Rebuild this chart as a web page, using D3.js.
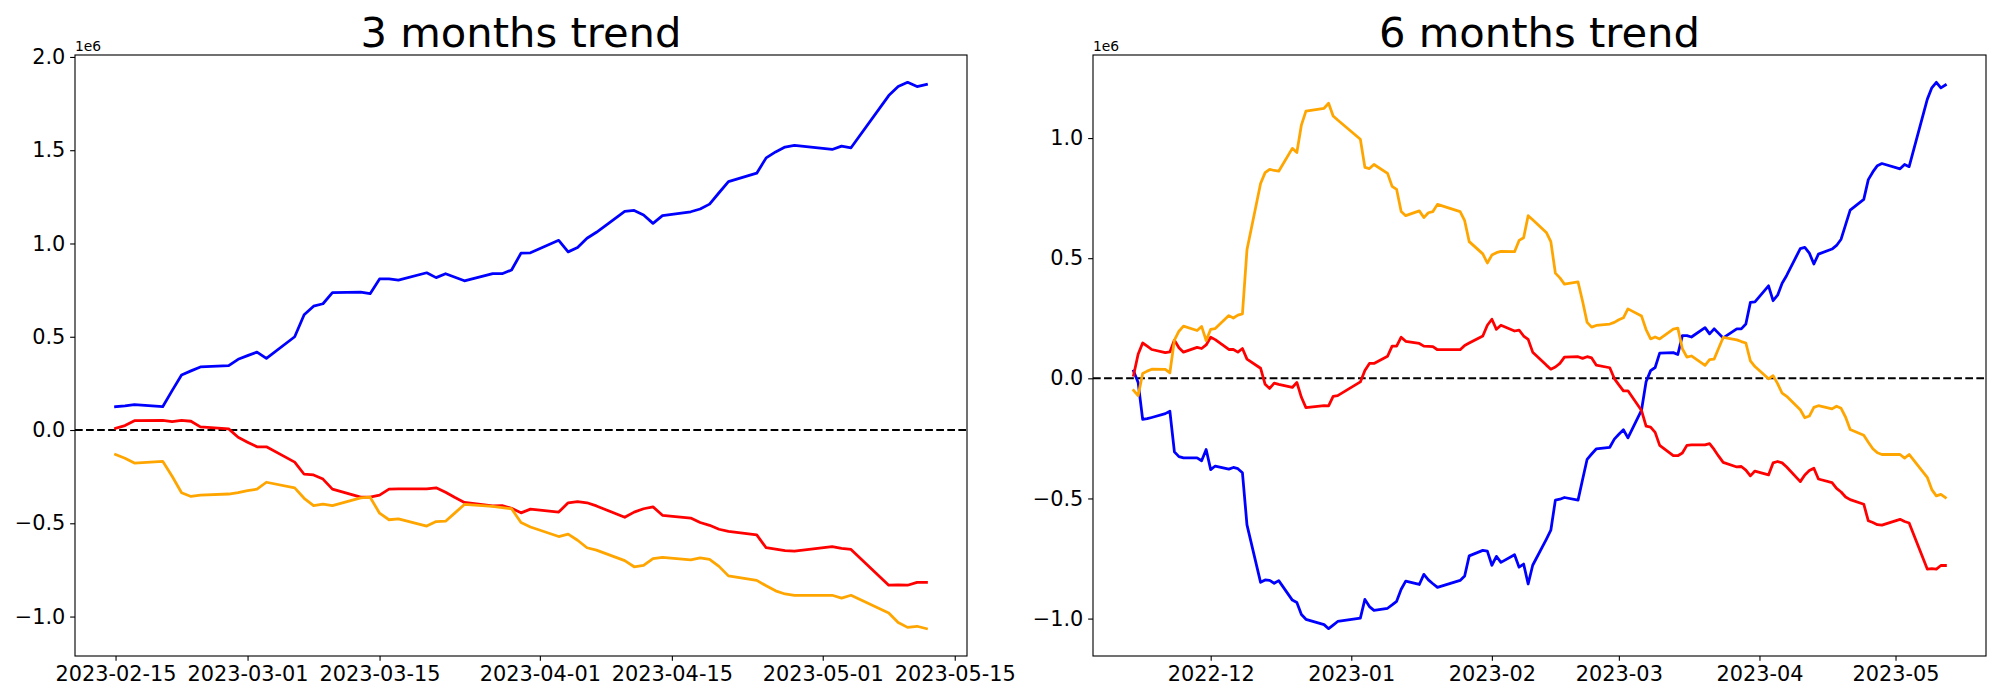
<!DOCTYPE html>
<html>
<head>
<meta charset="utf-8">
<script src="https://cdn.jsdelivr.net/npm/d3@7"></script>
<style>
	body { margin: 0; background: #ffffff; }
	text { font-family: "DejaVu Sans", sans-serif; fill: #000; }
</style>
</head>
<body>
<script>
//Values are in units of 1e6 (the axis offset text)

//3 months trend: trading dates
let dates3m = ["2023-02-15","2023-02-16","2023-02-17","2023-02-20","2023-02-21","2023-02-22","2023-02-23","2023-02-24","2023-02-27","2023-02-28",
	"2023-03-01","2023-03-02","2023-03-03","2023-03-06","2023-03-07","2023-03-08","2023-03-09","2023-03-10","2023-03-13","2023-03-14","2023-03-15","2023-03-16","2023-03-17","2023-03-20","2023-03-21","2023-03-22","2023-03-23","2023-03-24","2023-03-27","2023-03-28","2023-03-29","2023-03-30","2023-03-31",
	"2023-04-03","2023-04-04","2023-04-05","2023-04-06","2023-04-07","2023-04-10","2023-04-11","2023-04-12","2023-04-13","2023-04-14","2023-04-17","2023-04-18","2023-04-19","2023-04-20","2023-04-21","2023-04-24","2023-04-25","2023-04-26","2023-04-27","2023-04-28",
	"2023-05-02","2023-05-03","2023-05-04","2023-05-08","2023-05-09","2023-05-10","2023-05-11","2023-05-12"];

let blue3m = [0.125,0.129,0.136,0.125,0.211,0.295,0.317,0.338,0.345,0.379,
	0.399,0.418,0.384,0.500,0.618,0.664,0.677,0.737,0.739,0.731,0.810,0.810,0.804,0.843,0.817,0.838,0.819,0.800,0.838,0.838,0.858,0.948,0.950,
	1.017,0.955,0.978,1.028,1.060,1.172,1.177,1.153,1.108,1.149,1.170,1.185,1.211,1.272,1.332,1.377,1.459,1.491,1.517,1.526,
	1.504,1.522,1.513,1.793,1.841,1.864,1.841,1.853];

let red3m = [0.009,0.024,0.050,0.052,0.045,0.052,0.047,0.017,0.006,-0.039,
	-0.065,-0.090,-0.090,-0.172,-0.237,-0.241,-0.263,-0.317,-0.360,-0.360,-0.349,-0.317,-0.315,-0.315,-0.310,-0.334,-0.362,-0.388,-0.407,-0.405,-0.420,-0.444,-0.424,
	-0.440,-0.390,-0.384,-0.390,-0.407,-0.468,-0.440,-0.422,-0.412,-0.457,-0.472,-0.496,-0.511,-0.532,-0.543,-0.562,-0.631,-0.638,-0.647,-0.649,
	-0.625,-0.634,-0.640,-0.832,-0.830,-0.832,-0.817,-0.817];

let orange3m = [-0.131,-0.151,-0.177,-0.168,-0.248,-0.336,-0.356,-0.349,-0.343,-0.336,
	-0.325,-0.317,-0.280,-0.310,-0.366,-0.405,-0.397,-0.405,-0.364,-0.360,-0.446,-0.481,-0.476,-0.515,-0.491,-0.489,-0.444,-0.399,-0.409,-0.416,-0.422,-0.496,-0.520,
	-0.571,-0.558,-0.591,-0.631,-0.644,-0.700,-0.733,-0.726,-0.690,-0.683,-0.696,-0.685,-0.694,-0.731,-0.782,-0.806,-0.835,-0.862,-0.879,-0.886,
	-0.886,-0.901,-0.886,-0.981,-1.032,-1.058,-1.052,-1.065];

//6 months trend: trading dates before the 3 month window
let datesEarly6m = ["2022-11-14","2022-11-15","2022-11-16","2022-11-17","2022-11-18","2022-11-21","2022-11-22","2022-11-23","2022-11-24","2022-11-25","2022-11-28","2022-11-29","2022-11-30",
	"2022-12-01","2022-12-02","2022-12-05","2022-12-06","2022-12-07","2022-12-08","2022-12-09","2022-12-12","2022-12-13","2022-12-14","2022-12-15","2022-12-16","2022-12-19","2022-12-20","2022-12-21","2022-12-22","2022-12-26","2022-12-27","2022-12-28","2022-12-29",
	"2023-01-03","2023-01-04","2023-01-05","2023-01-06","2023-01-09","2023-01-10","2023-01-11","2023-01-12","2023-01-13","2023-01-16","2023-01-17","2023-01-18","2023-01-19","2023-01-20","2023-01-25","2023-01-26","2023-01-27","2023-01-30","2023-01-31",
	"2023-02-01","2023-02-02","2023-02-03","2023-02-06","2023-02-07","2023-02-08","2023-02-09","2023-02-10","2023-02-13","2023-02-14"];
let dates6m = datesEarly6m.concat(dates3m);

let blue6m = [0.030,-0.017,-0.171,-0.168,-0.163,-0.147,-0.137,-0.306,-0.326,-0.331,-0.331,-0.343,-0.296,
	-0.380,-0.365,-0.378,-0.371,-0.376,-0.393,-0.610,-0.849,-0.839,-0.841,-0.853,-0.842,-0.923,-0.933,-0.983,-1.003,-1.025,-1.042,-1.027,-1.012,
	-0.998,-0.920,-0.950,-0.966,-0.957,-0.943,-0.928,-0.878,-0.844,-0.858,-0.816,-0.839,-0.855,-0.870,-0.841,-0.823,-0.739,-0.716,-0.719,
	-0.778,-0.741,-0.766,-0.734,-0.786,-0.773,-0.856,-0.778,-0.670,-0.632,
	-0.507,-0.503,-0.496,-0.507,-0.421,-0.337,-0.315,-0.294,-0.287,-0.253,
	-0.233,-0.214,-0.248,-0.132,-0.014,0.032,0.045,0.105,0.107,0.099,0.178,0.178,0.172,0.211,0.185,0.206,0.187,0.168,0.206,0.206,0.226,0.316,0.318,
	0.385,0.323,0.346,0.396,0.428,0.540,0.545,0.521,0.476,0.517,0.538,0.553,0.579,0.640,0.700,0.745,0.827,0.859,0.885,0.894,
	0.872,0.890,0.881,1.161,1.209,1.232,1.209,1.221];

let red6m = [0.013,0.100,0.147,0.134,0.120,0.107,0.110,0.159,0.127,0.109,0.129,0.124,0.139,
	0.171,0.161,0.120,0.120,0.109,0.124,0.080,0.042,-0.025,-0.042,-0.020,-0.025,-0.038,-0.017,-0.079,-0.122,-0.114,-0.115,-0.075,-0.072,
	-0.015,0.033,0.062,0.062,0.092,0.134,0.134,0.171,0.154,0.145,0.134,0.133,0.132,0.119,0.119,0.137,0.147,0.176,0.221,
	0.246,0.204,0.221,0.197,0.201,0.176,0.162,0.109,0.055,0.038,
	0.047,0.062,0.088,0.090,0.083,0.090,0.085,0.055,0.044,-0.001,
	-0.027,-0.052,-0.052,-0.134,-0.199,-0.203,-0.225,-0.279,-0.322,-0.322,-0.311,-0.279,-0.277,-0.277,-0.272,-0.296,-0.324,-0.350,-0.369,-0.367,-0.382,-0.406,-0.386,
	-0.402,-0.352,-0.346,-0.352,-0.369,-0.430,-0.402,-0.384,-0.374,-0.419,-0.434,-0.458,-0.473,-0.494,-0.505,-0.524,-0.593,-0.600,-0.609,-0.611,
	-0.587,-0.596,-0.602,-0.794,-0.792,-0.794,-0.779,-0.779];

let orange6m = [-0.050,-0.072,0.020,0.030,0.038,0.037,0.023,0.159,0.196,0.217,0.199,0.216,0.157,
	0.204,0.207,0.261,0.251,0.263,0.268,0.535,0.811,0.856,0.870,0.865,0.862,0.957,0.940,1.054,1.112,1.124,1.145,1.092,1.075,
	0.995,0.878,0.873,0.890,0.853,0.799,0.786,0.694,0.677,0.697,0.669,0.689,0.694,0.724,0.694,0.656,0.569,0.518,0.480,
	0.513,0.523,0.528,0.527,0.574,0.585,0.677,0.660,0.607,0.569,
	0.438,0.418,0.392,0.401,0.321,0.233,0.213,0.220,0.226,0.233,
	0.244,0.252,0.289,0.259,0.203,0.164,0.172,0.164,0.205,0.209,0.123,0.088,0.093,0.054,0.078,0.080,0.125,0.170,0.160,0.153,0.147,0.073,0.049,
	-0.002,0.011,-0.022,-0.062,-0.075,-0.131,-0.164,-0.157,-0.121,-0.114,-0.127,-0.116,-0.125,-0.162,-0.213,-0.237,-0.266,-0.293,-0.310,-0.317,
	-0.317,-0.332,-0.317,-0.412,-0.463,-0.489,-0.483,-0.496];

//Tick values
let xTicks3m = ["2023-02-15","2023-03-01","2023-03-15","2023-04-01","2023-04-15","2023-05-01","2023-05-15"];
let xTicks6m = ["2022-12-01","2023-01-01","2023-02-01","2023-03-01","2023-04-01","2023-05-01"];
let yTicks3m = [-1.0, -0.5, 0.0, 0.5, 1.0, 1.5, 2.0];
let yTicks6m = [-1.0, -0.5, 0.0, 0.5, 1.0];

window.onload = function(){
	let w = 2000, h = 700;
	let pt = 100 / 72; //matplotlib points to pixels at 100 dpi

	let svg = d3.select("body")
		.append("svg")
		.attr("width", w)
		.attr("height", h)
		.style("background-color", "#ffffff");

	let parse = d3.utcParse("%Y-%m-%d");

	function drawPanel(cfg){
		let g = svg.append("g").attr("class", "panel");
		let dates = cfg.dates.map(parse);

		//Axis limits with a 5% margin on both sides
		let xExt = d3.extent(dates);
		let xPad = (xExt[1] - xExt[0]) * 0.05;
		let allValues = cfg.series.flatMap(function(s){ return s.values; });
		let yExt = d3.extent(allValues);
		let yPad = (yExt[1] - yExt[0]) * 0.05;

		let x = d3.scaleUtc()
			.domain([new Date(+xExt[0] - xPad), new Date(+xExt[1] + xPad)])
			.range([cfg.left, cfg.right]);

		let y = d3.scaleLinear()
			.domain([yExt[0] - yPad, yExt[1] + yPad])
			.range([cfg.bottom, cfg.top]);

		//Dashed zero line across the axes
		g.append("line")
			.attr("x1", cfg.left)
			.attr("x2", cfg.right)
			.attr("y1", y(0))
			.attr("y2", y(0))
			.style("stroke", "#000")
			.style("stroke-width", 1.5 * pt)
			.style("stroke-dasharray", (3.7 * 1.5 * pt) + "," + (1.6 * 1.5 * pt));

		//Series lines
		let line = d3.line()
			.x(function(d, i){ return x(dates[i]); })
			.y(function(d){ return y(d); });

		cfg.series.forEach(function(s){
			g.append("path")
				.datum(s.values)
				.attr("d", line)
				.style("fill", "none")
				.style("stroke", s.color)
				.style("stroke-width", 2 * pt)
				.style("stroke-linejoin", "round")
				.style("stroke-linecap", "square");
		});

		//Frame
		g.append("rect")
			.attr("x", cfg.left)
			.attr("y", cfg.top)
			.attr("width", cfg.right - cfg.left)
			.attr("height", cfg.bottom - cfg.top)
			.style("fill", "none")
			.style("stroke", "#000")
			.style("stroke-width", 0.8 * pt);

		//Bottom axis
		let xAxis = g.append("g")
			.attr("transform", "translate(0," + cfg.bottom + ")")
			.call(d3.axisBottom(x)
				.tickValues(cfg.xTicks.map(parse))
				.tickFormat(d3.utcFormat(cfg.xFormat))
				.tickSize(3.5 * pt)
				.tickPadding(3.5 * pt));

		//Left axis
		let yAxis = g.append("g")
			.attr("transform", "translate(" + cfg.left + ",0)")
			.call(d3.axisLeft(y)
				.tickValues(cfg.yTicks)
				.tickFormat(d3.format(".1f"))
				.tickSize(3.5 * pt)
				.tickPadding(3.5 * pt));

		[xAxis, yAxis].forEach(function(a){
			a.select(".domain").remove();
			a.selectAll(".tick line").style("stroke", "#000").style("stroke-width", 0.8 * pt);
			a.selectAll(".tick text")
				.style("font-family", "'DejaVu Sans', sans-serif")
				.style("font-size", (15 * pt) + "px")
				.style("fill", "#000");
		});

		//Offset text
		g.append("text")
			.attr("x", cfg.left)
			.attr("y", cfg.top - 4)
			.style("font-size", (10 * pt) + "px")
			.text("1e6");

		//Title
		g.append("text")
			.attr("x", (cfg.left + cfg.right) / 2)
			.attr("y", cfg.top - 6 * pt)
			.attr("text-anchor", "middle")
			.style("font-size", (30 * pt) + "px")
			.text(cfg.title);
	}

	drawPanel({
		title: "3 months trend",
		left: 75, right: 967, top: 55, bottom: 656,
		dates: dates3m,
		series: [
			{values: blue3m, color: "blue"},
			{values: red3m, color: "red"},
			{values: orange3m, color: "orange"}
		],
		xTicks: xTicks3m, xFormat: "%Y-%m-%d",
		yTicks: yTicks3m
	});

	drawPanel({
		title: "6 months trend",
		left: 1093, right: 1986, top: 55, bottom: 656,
		dates: dates6m,
		series: [
			{values: blue6m, color: "blue"},
			{values: red6m, color: "red"},
			{values: orange6m, color: "orange"}
		],
		xTicks: xTicks6m, xFormat: "%Y-%m",
		yTicks: yTicks6m
	});
};
</script>
</body>
</html>
